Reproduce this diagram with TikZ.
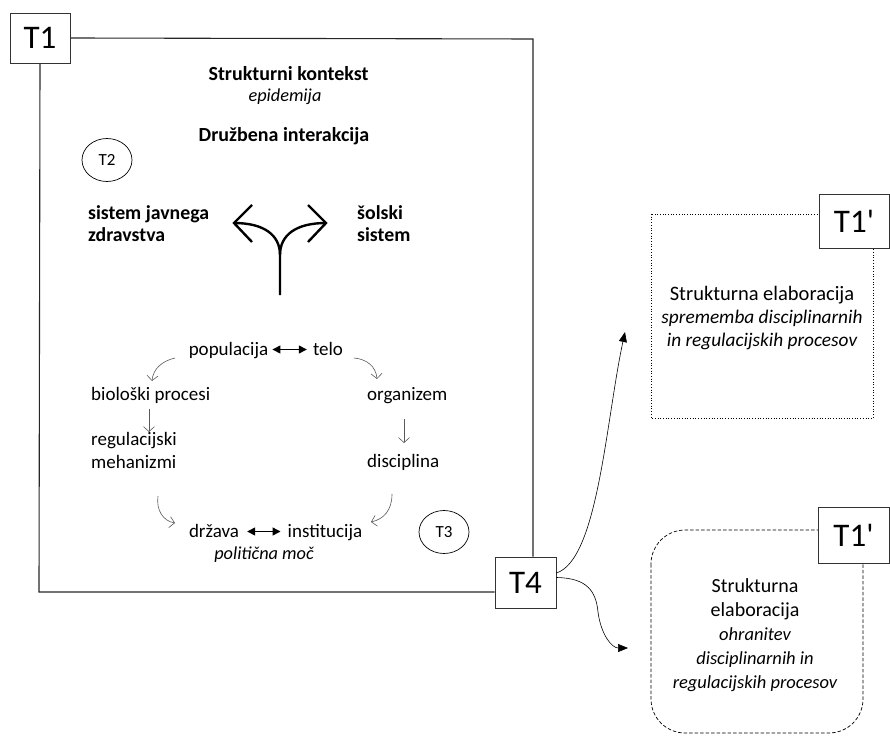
\documentclass[tikz,border=0pt]{standalone}
\usepackage{fontspec}
\setmainfont{Carlito}
\usetikzlibrary{arrows.meta,shapes.geometric}
\begin{document}
\begin{tikzpicture}[x=1pt,y=-1pt,
  lbl/.style={draw=black!80,fill=white,line width=0.6pt,minimum width=61pt,minimum height=51pt,inner sep=0pt,font=\fontsize{33}{33}\selectfont},
  tcirc/.style={draw,ellipse,line width=0.7pt,minimum width=50pt,minimum height=43pt,inner sep=0pt,font=\fontsize{17}{17}\selectfont},
  txt/.style={font=\fontsize{19}{19}\selectfont,inner sep=0pt},
  itxt/.style={font=\itshape\fontsize{18.3}{18.3}\selectfont,inner sep=0pt},
  btxt/.style={font=\bfseries\fontsize{20}{20}\selectfont,inner sep=0pt},
  cyc/.style={draw=black!65,line width=0.6pt,-{Straight Barb[length=5pt,width=11pt]}},
  dbl/.style={line width=1.3pt,{Triangle[length=8pt,width=8pt]}-{Triangle[length=8pt,width=8pt]}},
  outarr/.style={line width=0.6pt,-{Triangle[length=10pt,width=8pt]}},
  frame/.style={line width=1.1pt,draw=black!85}]
\useasboundingbox (0,0) rectangle (890,735);
% frame and labels
\node[lbl,minimum width=60pt,minimum height=50pt] (T1) at (40,38) {T1};
\node[lbl] (T4) at (525.5,582.5) {T4};
\coordinate (fTR) at (533,39);
\coordinate (fBL) at (39,592);
\draw[frame] (T1.east) -- (fTR) -- (fTR |- T4.north);
\draw[frame] (T1.south) -- (fBL) -- (fBL -| T4.west);

% right boxes
\draw[line width=0.7pt,dotted] (651,214) rectangle (873,418);
\node[lbl,minimum width=70pt,minimum height=54pt] (T1a) at (854,221) {T1\textquotesingle};
\node[align=center,inner sep=0pt,font=\fontsize{20.5}{23}\selectfont] (e1) at (762,318) {Strukturna elaboracija\\\itshape\fontsize{19.3}{23}\selectfont sprememba disciplinarnih\\\itshape\fontsize{19.3}{23}\selectfont in regulacijskih procesov};
\draw[line width=0.7pt,dash pattern=on 3.5pt off 2pt,rounded corners=34pt] (651,530) rectangle (863,733);
\node[lbl,minimum width=71pt,minimum height=56pt] (T1b) at (853.5,535) {T1\textquotesingle};
\node[align=center,inner sep=0pt,font=\fontsize{20}{24}\selectfont] (e2) at (755,635) {Strukturna\\elaboracija\\\itshape\fontsize{18.5}{24}\selectfont ohranitev\\\itshape\fontsize{18.5}{24}\selectfont disciplinarnih in\\\itshape\fontsize{18.5}{24}\selectfont regulacijskih procesov};

\coordinate (a1) at (625,332);
\coordinate (a2) at (628,648);
\draw[outarr] ([yshift=9.5pt]T4.east) .. controls (598,560) and (606,420) .. (a1);
\draw[outarr] ([yshift=5pt]T4.east) .. controls (588,578) and (596,592) .. (598,612) .. controls (601,635) and (612,648) .. (a2);

% titles
\node[btxt,anchor=base] (t1) at (288.5,81) {Strukturni kontekst};
\node[itxt,anchor=base] (t2) at (285,102) {epidemija};
\node[btxt,anchor=base] (t3) at (284,142) {Družbena interakcija};
\node[tcirc] (T2) at (107,160) {T2};
\node[tcirc] (T3) at (444,532) {T3};

\node[anchor=base west,inner sep=0pt,font=\bfseries\fontsize{19.8}{19.8}\selectfont] (s1a) at (88,219) {sistem javnega};
\node[anchor=base west,inner sep=0pt,font=\bfseries\fontsize{19.8}{19.8}\selectfont] (s1b) at (88,241) {zdravstva};
\node[anchor=base west,inner sep=0pt,font=\bfseries\fontsize{19.8}{19.8}\selectfont] (s2a) at (357,219) {šolski};
\node[anchor=base west,inner sep=0pt,font=\bfseries\fontsize{19.8}{19.8}\selectfont] (s2b) at (357,241) {sistem};

% fork
\draw[line width=2.4pt,line join=miter] (252,205) -- (234,223) -- (252,242);
\draw[line width=2.4pt,line join=miter] (308,205) -- (326,223) -- (308,242);
\draw[line width=2.4pt] (234,223) .. controls (264,223) and (280,235) .. (280,255) -- (280,295);
\draw[line width=2.4pt] (326,223) .. controls (296,223) and (280,235) .. (280,255);

% cycle
\node[txt,anchor=base] (pop) at (228.5,355) {populacija};
\node[txt,anchor=base] (tel) at (328,355) {telo};
\draw[dbl] ([xshift=-6pt,yshift=5.5pt]tel.base west) -- ([xshift=4pt,yshift=5.5pt]pop.base east);
\node[txt,anchor=base west] (bio) at (91,400) {biološki procesi};
\node[txt,anchor=base west] (org) at (367,400) {organizem};
\node[txt,anchor=base west] (reg1) at (91,445) {regulacijski};
\node[txt,anchor=base west] (reg2) at (91,468) {mehanizmi};
\node[txt,anchor=base west] (dis) at (367,467) {disciplina};
\node[txt,anchor=base] (drz) at (214,537) {država};
\node[txt,anchor=base] (ins) at (325,537) {institucija};
\draw[dbl] ([xshift=8pt,yshift=5.5pt]drz.base east) -- ([xshift=-7pt,yshift=5.5pt]ins.base west);
\node[itxt,anchor=base] (pm) at (264,559) {politična moč};

\coordinate (c1s) at (175,358); \coordinate (c1e) at (152,381);
\draw[cyc] (c1s) .. controls (162,361) and (153,369) .. (c1e);
\coordinate (c2s) at (354,358); \coordinate (c2e) at (377,379);
\draw[cyc] (c2s) .. controls (366,359) and (376,366) .. (c2e);
\coordinate (c5s) at (149,409); \coordinate (c5e) at (149,432);
\draw[cyc] (c5s) -- (c5e);
\coordinate (c6s) at (404,419); \coordinate (c6e) at (404,443);
\draw[cyc] (c6s) -- (c6e);
\coordinate (c3s) at (158,496); \coordinate (c3e) at (175,523);
\draw[cyc] (c3s) .. controls (156,510) and (163,521) .. (c3e);
\coordinate (c4s) at (392,494); \coordinate (c4e) at (371,522);
\draw[cyc] (c4s) .. controls (392,510) and (384,519) .. (c4e);
\end{tikzpicture}
\end{document}
